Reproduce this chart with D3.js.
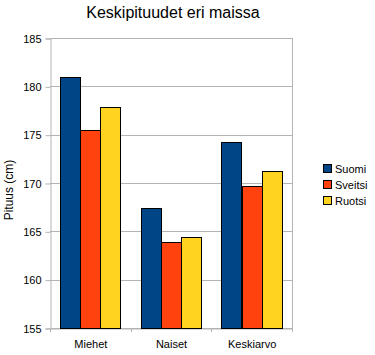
<!DOCTYPE html>
<html><head><meta charset="utf-8">
<script src="https://cdn.jsdelivr.net/npm/d3@7"></script>
<style>body{margin:0;background:#fff}svg{display:block;font-family:"Liberation Sans",Arial,sans-serif}</style>
</head><body>
<script>
const title = "Keskipituudet eri maissa";
const yLabel = "Pituus (cm)";
const categories = ["Miehet", "Naiset", "Keskiarvo"];
const seriesNames = ["Suomi", "Sveitsi", "Ruotsi"];
const suomi = [181.0, 167.4, 174.2];
const sveitsi = [175.5, 163.9, 169.7];
const ruotsi = [177.9, 164.4, 171.2];
const colors = ["#004586", "#ff420e", "#ffd320"];
const yTicks = [155, 160, 165, 170, 175, 180, 185];

const values = [suomi, sveitsi, ruotsi];
const W = 375, H = 355;
const m = {left: 50, right: 292, top: 38, bottom: 328};

const svg = d3.select("body").append("svg").attr("width", W).attr("height", H);

const x = d3.scaleBand().domain(categories).range([m.left, m.right]).paddingInner(0).paddingOuter(0);
const xs = d3.scaleBand().domain(seriesNames).range([0, x.bandwidth()]).paddingOuter(0.485).paddingInner(0);
const y = d3.scaleLinear().domain([155, 185]).range([m.bottom, m.top]);

// grid
svg.append("g").selectAll("line").data(yTicks).join("line")
  .attr("x1", m.left).attr("x2", m.right)
  .attr("y1", d => Math.round(y(d)) + 0.5).attr("y2", d => Math.round(y(d)) + 0.5)
  .attr("stroke", "#b3b3b3");

// right border
svg.append("line").attr("x1", m.right + 0.5).attr("x2", m.right + 0.5)
  .attr("y1", m.top).attr("y2", m.bottom).attr("stroke", "#b3b3b3");

// y axis
const yAxis = svg.append("g").attr("transform", `translate(${m.left + 0.5},0.5)`)
  .call(d3.axisLeft(y).tickValues(yTicks).tickSize(5).tickPadding(4).tickFormat(d3.format("d")));
yAxis.select(".domain").attr("stroke", "#b3b3b3");
yAxis.selectAll(".tick line").attr("stroke", "#b3b3b3");
yAxis.selectAll("text").attr("font-size", 11).attr("fill", "#000").attr("font-family", "Liberation Sans, Arial, sans-serif");

// x axis
const xAxis = svg.append("g").attr("transform", `translate(0.5,${Math.round(m.bottom) + 0.5})`)
  .call(d3.axisBottom(x).tickSize(0).tickPadding(12));
xAxis.select(".domain").attr("stroke", "#b3b3b3");
xAxis.selectAll("text").attr("font-size", 11).attr("fill", "#000").attr("font-family", "Liberation Sans, Arial, sans-serif");
const bounds = [...categories.map(c => x(c)), m.right];
svg.append("g").selectAll("line").data(bounds).join("line")
  .attr("x1", d => Math.round(d) + 0.5).attr("x2", d => Math.round(d) + 0.5)
  .attr("y1", m.bottom).attr("y2", m.bottom + 4).attr("stroke", "#b3b3b3");

// bars
const data = [];
categories.forEach((c, i) => seriesNames.forEach((s, j) => data.push({c, s, v: values[j][i], j})));
svg.append("g").selectAll("rect").data(data).join("rect")
  .attr("x", d => Math.round(x(d.c) + xs(d.s)) + 0.5)
  .attr("width", Math.round(xs.bandwidth()))
  .attr("y", d => Math.round(y(d.v)) + 0.5)
  .attr("height", d => Math.round(y(155)) - Math.round(y(d.v)))
  .attr("fill", d => colors[d.j])
  .attr("stroke", "#000").attr("stroke-width", 1);

// title
svg.append("text").attr("x", 173).attr("y", 18).attr("text-anchor", "middle")
  .attr("font-size", 16).attr("fill", "#000").text(title);

// y label
svg.append("text").attr("transform", "translate(13,190) rotate(-90)").attr("text-anchor", "middle")
  .attr("font-size", 12).attr("fill", "#000").text(yLabel);

// legend
const lg = svg.append("g").attr("transform", "translate(323,164)");
const items = lg.selectAll("g").data(seriesNames).join("g").attr("transform", (d, i) => `translate(0,${i * 16})`);
items.append("rect").attr("x", 0.5).attr("y", 0.5).attr("width", 8).attr("height", 8)
  .attr("fill", (d, i) => colors[i]).attr("stroke", "#000");
items.append("text").attr("x", 12).attr("y", 9).attr("font-size", 11).attr("fill", "#000").text(d => d);
</script>
</body></html>
